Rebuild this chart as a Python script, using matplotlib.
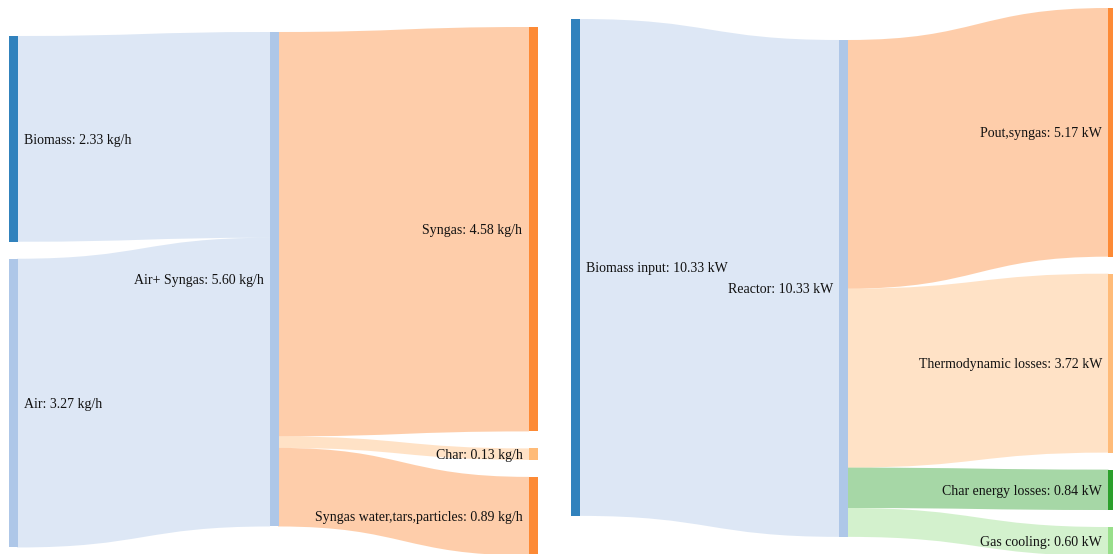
#!/usr/bin/env python3
"""
Two Sankey diagrams: mass balance (kg/h) and energy balance (kW) of the gasifier.
"""
import matplotlib
matplotlib.use('Agg')
import matplotlib.pyplot as plt
from matplotlib.path import Path
from matplotlib.patches import PathPatch, Rectangle

# Mass balance (left)
mass_nodes = ['Biomass', 'Air', 'Air+ Syngas', 'Syngas', 'Char',
              'Syngas water,tars,particles']
mass_columns = [0, 0, 1, 2, 2, 2]
mass_colors = ['#3182bd', '#aec7e8', '#aec7e8', '#fd8a35', '#ffbb78', '#fd8a35']
mass_sources = [0, 1, 2, 2, 2]
mass_targets = [2, 2, 3, 4, 5]
mass_values = [2.33, 3.27, 4.58, 0.13, 0.89]

# Energy balance (right)
energy_nodes = ['Biomass input', 'Reactor', 'Pout,syngas', 'Thermodynamic losses',
                'Char energy losses', 'Gas cooling']
energy_columns = [0, 1, 2, 2, 2, 2]
energy_colors = ['#3182bd', '#aec7e8', '#fd8a35', '#ffbb78', '#2ca02c', '#98df8a']
energy_sources = [0, 1, 1, 1, 1]
energy_targets = [1, 2, 3, 4, 5]
energy_values = [10.33, 5.17, 3.72, 0.84, 0.60]

# Layout (pixels)
W, H = 1113, 554
NODE_W = 9
GAP = 17
LINK_ALPHA = 0.42
FONT = ['Liberation Serif', 'DejaVu Serif']
FS = 10


def draw_sankey(ax, names, columns, colors, sources, targets, values,
                col_x, col_top, scale, unit):
    n = len(names)
    inflow = [0.0] * n
    outflow = [0.0] * n
    for s, t, v in zip(sources, targets, values):
        outflow[s] += v
        inflow[t] += v
    node_val = [max(i, o) for i, o in zip(inflow, outflow)]

    # stack nodes within each column
    y0 = [0.0] * n
    cursor = {}
    for i in range(n):
        c = columns[i]
        y = cursor.get(c, col_top[c])
        y0[i] = y
        cursor[c] = y + node_val[i] * scale + GAP
    x0 = [col_x[columns[i]] for i in range(n)]

    # links
    out_off = [0.0] * n
    in_off = [0.0] * n
    for s, t, v in zip(sources, targets, values):
        h = v * scale
        xs = x0[s] + NODE_W - 0.5
        xt = x0[t] + 0.5
        xm = (xs + xt) / 2
        ys = y0[s] + out_off[s]
        yt = y0[t] + in_off[t]
        out_off[s] += h
        in_off[t] += h
        verts = [(xs, ys), (xm, ys), (xm, yt), (xt, yt),
                 (xt, yt + h), (xm, yt + h), (xm, ys + h), (xs, ys + h), (xs, ys)]
        codes = [Path.MOVETO, Path.CURVE4, Path.CURVE4, Path.CURVE4,
                 Path.LINETO, Path.CURVE4, Path.CURVE4, Path.CURVE4, Path.CLOSEPOLY]
        ax.add_patch(PathPatch(Path(verts, codes), facecolor=colors[t],
                               alpha=LINK_ALPHA, lw=0, zorder=1))

    # nodes and labels: first column labelled on the right, the rest on the left
    for i in range(n):
        h = node_val[i] * scale
        ax.add_patch(Rectangle((x0[i], y0[i]), NODE_W, h, facecolor=colors[i],
                               lw=0, zorder=2))
        label = f'{names[i]}: {node_val[i]:.2f} {unit}'
        yb = y0[i] + h / 2 + 0.35 * FS * 100 / 72
        if columns[i] == 0:
            ax.text(x0[i] + NODE_W + 6, yb, label, ha='left', va='baseline',
                    fontsize=FS, family=FONT, color='#111111', zorder=3)
        else:
            ax.text(x0[i] - 6, yb, label, ha='right', va='baseline',
                    fontsize=FS, family=FONT, color='#111111', zorder=3)


fig = plt.figure(figsize=(W / 100, H / 100), dpi=100)
ax = fig.add_axes([0, 0, 1, 1])
ax.set_xlim(0, W)
ax.set_ylim(H, 0)
ax.axis('off')

draw_sankey(ax, mass_nodes, mass_columns, mass_colors, mass_sources, mass_targets,
            mass_values, col_x=[8.5, 269.5, 528.5], col_top=[36, 32, 27],
            scale=88.3, unit='kg/h')
draw_sankey(ax, energy_nodes, energy_columns, energy_colors, energy_sources,
            energy_targets, energy_values, col_x=[571, 839, 1108],
            col_top=[19, 40, 8], scale=48.1, unit='kW')

fig.savefig('out.png', dpi=100)
plt.close(fig)
